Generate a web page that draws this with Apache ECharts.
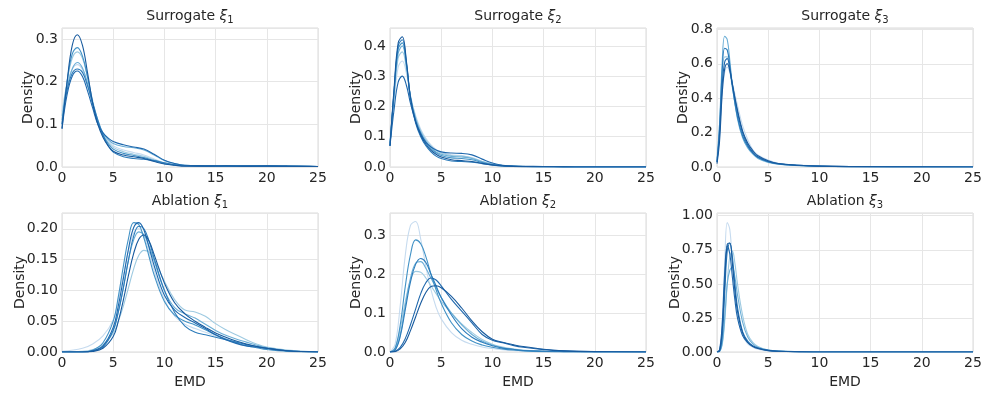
<html>
<head>
    <meta http-equiv="Content-Type" content="text/html; charset=utf-8">
    <script type="text/javascript" src="https://cdn.jsdelivr.net/npm/echarts@6/dist/echarts.min.js"></script>
    <style>
        html, body { margin: 0; padding: 0; background: #fff; }
        #main { width: 997px; height: 399px; }
    </style>
</head>
<body>
<div id="main"></div>
<script type="text/javascript">
    // colours of the curves, light to dark (Blues)
    var blues = ['#c6dbef', '#9ecae1', '#6baed6', '#4292c6', '#2b7bba', '#1f68ad', '#175a9e'];

    // Surrogate xi_1
    var x1 = [0, 0.5, 1, 1.5, 2, 2.5, 3, 3.5, 4, 4.5, 5, 6, 7, 8, 9, 10, 11, 12, 14, 16, 18, 20, 22, 25];
    var s1 = [
        [0.13, 0.195, 0.23, 0.24, 0.228, 0.195, 0.15, 0.11, 0.08, 0.062, 0.05, 0.04, 0.034, 0.028, 0.019, 0.01, 0.006, 0.003, 0.002, 0.002, 0.002, 0.002, 0.001, 0.001],
        [0.12, 0.2, 0.255, 0.27, 0.255, 0.21, 0.155, 0.11, 0.078, 0.058, 0.046, 0.036, 0.03, 0.025, 0.017, 0.009, 0.005, 0.003, 0.002, 0.002, 0.002, 0.002, 0.001, 0.001],
        [0.11, 0.185, 0.23, 0.245, 0.232, 0.195, 0.145, 0.105, 0.08, 0.065, 0.055, 0.048, 0.045, 0.04, 0.028, 0.015, 0.008, 0.004, 0.003, 0.002, 0.002, 0.002, 0.002, 0.001],
        [0.1, 0.2, 0.265, 0.28, 0.26, 0.21, 0.15, 0.105, 0.075, 0.055, 0.042, 0.032, 0.027, 0.022, 0.015, 0.008, 0.005, 0.003, 0.002, 0.002, 0.002, 0.002, 0.002, 0.001],
        [0.1, 0.18, 0.22, 0.23, 0.222, 0.19, 0.15, 0.11, 0.075, 0.05, 0.035, 0.024, 0.02, 0.018, 0.015, 0.01, 0.005, 0.003, 0.002, 0.002, 0.002, 0.002, 0.001, 0.001],
        [0.09, 0.17, 0.213, 0.225, 0.212, 0.178, 0.138, 0.1, 0.08, 0.068, 0.06, 0.052, 0.047, 0.042, 0.03, 0.016, 0.008, 0.004, 0.003, 0.002, 0.002, 0.003, 0.002, 0.001],
        [0.09, 0.2, 0.285, 0.31, 0.285, 0.22, 0.15, 0.1, 0.07, 0.05, 0.037, 0.028, 0.024, 0.02, 0.013, 0.007, 0.004, 0.002, 0.002, 0.003, 0.002, 0.002, 0.002, 0.001]
    ];

    // Surrogate xi_2
    var x2 = [0, 0.4, 0.8, 1.2, 1.6, 2, 2.5, 3, 3.5, 4, 4.5, 5, 6, 7, 8, 9, 10, 11, 12, 14, 16, 18, 20, 25];
    var s2 = [
        [0.09, 0.22, 0.33, 0.35, 0.31, 0.235, 0.17, 0.125, 0.095, 0.073, 0.058, 0.048, 0.04, 0.038, 0.031, 0.019, 0.01, 0.005, 0.003, 0.001, 0.001, 0, 0, 0],
        [0.08, 0.23, 0.36, 0.38, 0.325, 0.235, 0.165, 0.12, 0.09, 0.07, 0.055, 0.046, 0.038, 0.036, 0.03, 0.018, 0.009, 0.005, 0.003, 0.001, 0.001, 0, 0, 0],
        [0.08, 0.24, 0.375, 0.4, 0.335, 0.23, 0.16, 0.115, 0.085, 0.065, 0.05, 0.042, 0.035, 0.033, 0.028, 0.017, 0.009, 0.005, 0.003, 0.001, 0.001, 0, 0, 0],
        [0.07, 0.25, 0.39, 0.41, 0.34, 0.23, 0.155, 0.11, 0.08, 0.06, 0.047, 0.038, 0.03, 0.028, 0.024, 0.015, 0.008, 0.004, 0.002, 0.001, 0.001, 0, 0, 0],
        [0.07, 0.25, 0.4, 0.42, 0.345, 0.225, 0.145, 0.1, 0.07, 0.05, 0.036, 0.028, 0.02, 0.018, 0.016, 0.011, 0.006, 0.003, 0.002, 0.001, 0, 0, 0, 0],
        [0.07, 0.19, 0.28, 0.3, 0.27, 0.21, 0.15, 0.11, 0.082, 0.066, 0.056, 0.05, 0.046, 0.045, 0.04, 0.026, 0.013, 0.006, 0.003, 0.002, 0.001, 0, 0, 0],
        [0.07, 0.26, 0.41, 0.43, 0.35, 0.23, 0.15, 0.105, 0.075, 0.055, 0.042, 0.033, 0.024, 0.021, 0.018, 0.012, 0.007, 0.004, 0.002, 0.001, 0.001, 0, 0, 0]
    ];

    // Surrogate xi_3
    var x3 = [0, 0.25, 0.5, 0.75, 1, 1.25, 1.5, 2, 2.5, 3, 3.5, 4, 5, 6, 8, 10, 13, 25];
    var s3 = [
        [0.04, 0.18, 0.42, 0.55, 0.58, 0.55, 0.49, 0.36, 0.24, 0.16, 0.1, 0.07, 0.04, 0.022, 0.011, 0.005, 0.002, 0],
        [0.05, 0.25, 0.52, 0.64, 0.64, 0.56, 0.46, 0.3, 0.19, 0.12, 0.08, 0.055, 0.03, 0.018, 0.009, 0.005, 0.002, 0],
        [0.03, 0.25, 0.6, 0.76, 0.74, 0.62, 0.48, 0.28, 0.17, 0.11, 0.075, 0.05, 0.027, 0.016, 0.008, 0.004, 0.002, 0],
        [0.03, 0.22, 0.55, 0.69, 0.68, 0.59, 0.47, 0.29, 0.18, 0.12, 0.08, 0.055, 0.03, 0.017, 0.009, 0.004, 0.002, 0],
        [0.03, 0.2, 0.47, 0.61, 0.63, 0.57, 0.48, 0.32, 0.2, 0.13, 0.085, 0.058, 0.032, 0.019, 0.01, 0.005, 0.002, 0],
        [0.02, 0.15, 0.42, 0.57, 0.6, 0.56, 0.48, 0.33, 0.21, 0.14, 0.095, 0.065, 0.036, 0.02, 0.01, 0.005, 0.002, 0]
    ];

    // Ablation xi_1
    var x4 = [0, 2, 3, 4, 5, 5.5, 6, 6.5, 7, 7.5, 8, 8.5, 9, 10, 11, 12, 13, 14, 15, 16, 17, 18, 19, 20, 22, 25];
    var s4 = [
        [0.001, 0.006, 0.013, 0.026, 0.052, 0.085, 0.125, 0.165, 0.193, 0.2, 0.188, 0.162, 0.132, 0.085, 0.058, 0.045, 0.038, 0.032, 0.026, 0.021, 0.016, 0.012, 0.008, 0.005, 0.002, 0],
        [0, 0.001, 0.004, 0.012, 0.03, 0.05, 0.075, 0.105, 0.135, 0.157, 0.165, 0.162, 0.15, 0.115, 0.085, 0.068, 0.065, 0.058, 0.046, 0.036, 0.028, 0.02, 0.013, 0.008, 0.003, 0],
        [0, 0, 0.002, 0.01, 0.035, 0.065, 0.105, 0.15, 0.182, 0.195, 0.19, 0.172, 0.148, 0.1, 0.072, 0.062, 0.055, 0.045, 0.035, 0.027, 0.021, 0.016, 0.011, 0.007, 0.002, 0],
        [0, 0, 0.003, 0.015, 0.05, 0.09, 0.14, 0.185, 0.21, 0.207, 0.185, 0.155, 0.125, 0.082, 0.06, 0.05, 0.044, 0.036, 0.028, 0.021, 0.015, 0.01, 0.007, 0.004, 0.001, 0],
        [0, 0, 0.002, 0.008, 0.035, 0.065, 0.105, 0.15, 0.188, 0.204, 0.2, 0.18, 0.152, 0.1, 0.064, 0.042, 0.032, 0.028, 0.024, 0.02, 0.016, 0.012, 0.009, 0.006, 0.002, 0],
        [0, 0, 0.002, 0.01, 0.04, 0.075, 0.12, 0.168, 0.202, 0.21, 0.198, 0.17, 0.14, 0.092, 0.068, 0.056, 0.047, 0.038, 0.028, 0.02, 0.014, 0.01, 0.008, 0.006, 0.002, 0],
        [0, 0, 0.001, 0.006, 0.025, 0.05, 0.085, 0.125, 0.16, 0.183, 0.19, 0.18, 0.158, 0.112, 0.08, 0.062, 0.05, 0.04, 0.031, 0.024, 0.018, 0.013, 0.009, 0.006, 0.002, 0]
    ];

    // Ablation xi_2
    var x5 = [0, 0.5, 1, 1.5, 2, 2.5, 3, 3.5, 4, 4.5, 5, 6, 7, 8, 9, 10, 11, 12, 13, 15, 17, 20, 25];
    var s5 = [
        [0, 0.02, 0.12, 0.25, 0.325, 0.335, 0.29, 0.22, 0.16, 0.115, 0.085, 0.05, 0.03, 0.02, 0.013, 0.009, 0.006, 0.004, 0.003, 0.001, 0, 0, 0],
        [0, 0.01, 0.06, 0.13, 0.185, 0.207, 0.205, 0.19, 0.17, 0.15, 0.13, 0.1, 0.072, 0.05, 0.032, 0.02, 0.013, 0.008, 0.005, 0.002, 0.001, 0, 0],
        [0, 0.006, 0.045, 0.12, 0.19, 0.228, 0.232, 0.215, 0.19, 0.165, 0.14, 0.1, 0.07, 0.045, 0.028, 0.018, 0.011, 0.007, 0.004, 0.002, 0.001, 0, 0],
        [0, 0.01, 0.07, 0.17, 0.25, 0.288, 0.278, 0.245, 0.2, 0.16, 0.125, 0.075, 0.045, 0.028, 0.018, 0.012, 0.008, 0.005, 0.003, 0.001, 0, 0, 0],
        [0, 0.005, 0.04, 0.11, 0.18, 0.225, 0.24, 0.23, 0.2, 0.17, 0.14, 0.095, 0.06, 0.038, 0.025, 0.016, 0.01, 0.007, 0.004, 0.002, 0.001, 0, 0],
        [0, 0.002, 0.012, 0.035, 0.07, 0.11, 0.15, 0.178, 0.19, 0.185, 0.17, 0.135, 0.105, 0.075, 0.045, 0.03, 0.024, 0.017, 0.012, 0.006, 0.003, 0.001, 0],
        [0, 0.001, 0.008, 0.025, 0.055, 0.09, 0.125, 0.153, 0.168, 0.17, 0.165, 0.143, 0.113, 0.08, 0.052, 0.033, 0.025, 0.019, 0.014, 0.007, 0.003, 0.001, 0]
    ];

    // Ablation xi_3
    var x6 = [0, 0.25, 0.5, 0.75, 1, 1.25, 1.5, 1.75, 2, 2.5, 3, 3.5, 4, 5, 6, 8, 10, 25];
    var s6 = [
        [0, 0.02, 0.2, 0.65, 0.95, 0.9, 0.65, 0.42, 0.27, 0.12, 0.06, 0.035, 0.02, 0.008, 0.004, 0.001, 0, 0],
        [0, 0.004, 0.05, 0.22, 0.5, 0.7, 0.74, 0.65, 0.5, 0.27, 0.13, 0.07, 0.04, 0.015, 0.007, 0.002, 0, 0],
        [0, 0.005, 0.06, 0.25, 0.5, 0.6, 0.62, 0.55, 0.42, 0.22, 0.11, 0.06, 0.035, 0.015, 0.007, 0.002, 0, 0],
        [0, 0.005, 0.1, 0.42, 0.74, 0.8, 0.7, 0.5, 0.33, 0.15, 0.08, 0.045, 0.028, 0.012, 0.006, 0.002, 0, 0],
        [0, 0.015, 0.2, 0.58, 0.78, 0.72, 0.55, 0.38, 0.25, 0.12, 0.07, 0.045, 0.03, 0.012, 0.005, 0.001, 0, 0],
        [0, 0.01, 0.15, 0.5, 0.79, 0.8, 0.65, 0.45, 0.3, 0.14, 0.07, 0.04, 0.025, 0.01, 0.005, 0.001, 0, 0]
    ];

    var panels = [
        {name: 'Surrogate ', sub: '1', xs: x1, ys: s1, max: 0.326, step: 0.1, dec: 1, gap: 27},
        {name: 'Surrogate ', sub: '2', xs: x2, ys: s2, max: 0.459, step: 0.1, dec: 1, gap: 27},
        {name: 'Surrogate ', sub: '3', xs: x3, ys: s3, max: 0.808, step: 0.2, dec: 1, gap: 27},
        {name: 'Ablation ', sub: '1', xs: x4, ys: s4, max: 0.2256, step: 0.05, dec: 2, gap: 35},
        {name: 'Ablation ', sub: '2', xs: x5, ys: s5, max: 0.357, step: 0.1, dec: 1, gap: 27},
        {name: 'Ablation ', sub: '3', xs: x6, ys: s6, max: 1.02, step: 0.25, dec: 2, gap: 35}
    ];

    var lefts = [62, 390, 717];
    var tops = [28, 213];
    var W = 256, H = 139;
    var font = 'DejaVu Sans';
    var ink = '#262626';
    var fs = 14;

    var grids = [], xAxes = [], yAxes = [], titles = [], series = [];
    panels.forEach(function (p, i) {
        var col = i % 3, row = Math.floor(i / 3);
        grids.push({left: lefts[col], top: tops[row], width: W, height: H,
            show: true, borderColor: '#dadada', borderWidth: 1, backgroundColor: 'transparent'});
        xAxes.push({
            type: 'value', gridIndex: i, min: 0, max: 25, interval: 5,
            name: row == 1 ? 'EMD' : '', nameLocation: 'middle', nameGap: 23, nameMoveOverlap: false,
            nameTextStyle: {fontFamily: font, fontSize: fs, color: ink},
            axisLine: {show: false}, axisTick: {show: false},
            axisLabel: {fontFamily: font, fontSize: fs, color: ink, margin: 4},
            splitLine: {lineStyle: {color: '#e6e6e6', width: 1}}
        });
        yAxes.push({
            type: 'value', gridIndex: i, min: 0, max: p.max, interval: p.step,
            name: 'Density', nameLocation: 'middle', nameRotate: 90, nameGap: p.gap, nameMoveOverlap: false,
            nameTextStyle: {fontFamily: font, fontSize: fs, color: ink},
            axisLine: {show: false}, axisTick: {show: false},
            axisLabel: {fontFamily: font, fontSize: fs, color: ink, margin: 4, showMaxLabel: false,
                formatter: (function (d) { return function (v) { return v.toFixed(d); }; })(p.dec)},
            splitLine: {lineStyle: {color: '#e6e6e6', width: 1}}
        });
        titles.push({
            text: '{a|' + p.name + '}{i|ξ}{s|' + p.sub + '}',
            left: lefts[col] + W / 2, top: tops[row] - 20, textAlign: 'center', padding: 0,
            textStyle: {
                fontWeight: 'normal',
                rich: {
                    a: {fontFamily: font, fontSize: fs, fontWeight: 'normal', color: ink, lineHeight: 17},
                    i: {fontFamily: font, fontSize: fs, fontStyle: 'italic', fontWeight: 'normal', color: ink, lineHeight: 17},
                    s: {fontFamily: font, fontSize: 10, fontWeight: 'normal', color: ink, lineHeight: 11, verticalAlign: 'bottom'}
                }
            }
        });
        var n = p.ys.length;
        p.ys.forEach(function (ys, j) {
            var c = blues[Math.round(j * (blues.length - 1) / (n - 1))];
            series.push({
                type: 'line', xAxisIndex: i, yAxisIndex: i, silent: true,
                showSymbol: false, smooth: 0.4,
                lineStyle: {width: 1.1, color: c},
                data: p.xs.map(function (x, k) { return [x, ys[k]]; })
            });
        });
    });

    var myChart = echarts.init(document.getElementById('main'), null, {renderer: 'canvas'});
    myChart.setOption({
        animation: false,
        backgroundColor: '#fff',
        title: titles,
        grid: grids,
        xAxis: xAxes,
        yAxis: yAxes,
        series: series
    });
</script>
</body>
</html>
